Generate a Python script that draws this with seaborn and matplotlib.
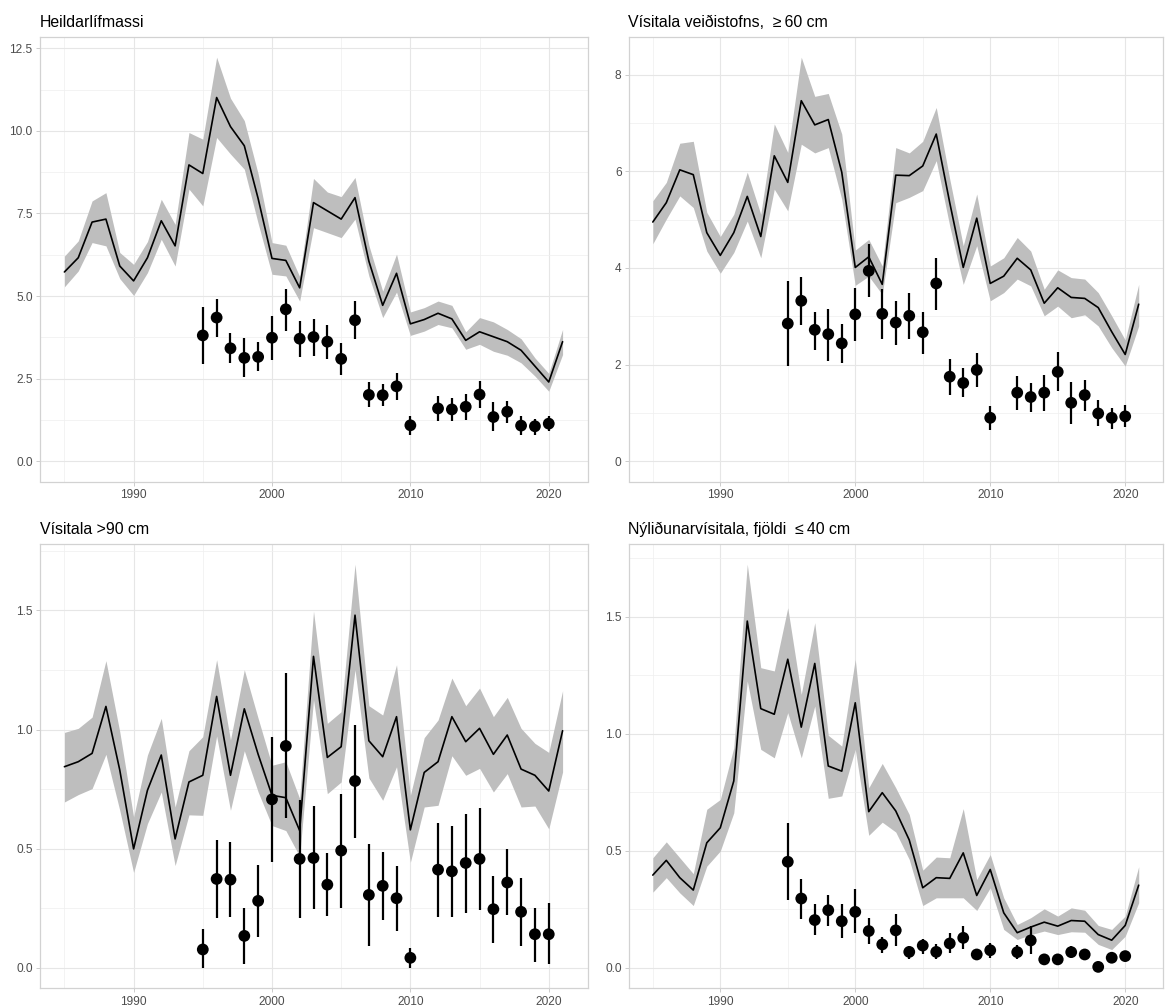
import matplotlib
matplotlib.use("Agg")
import matplotlib.pyplot as plt
import seaborn as sns
from matplotlib.ticker import MultipleLocator, FuncFormatter

sns.set_theme(style="white")
plt.rcParams["font.family"] = ["Liberation Sans", "DejaVu Sans"]

# ---------------------------------------------------------------------------
# Data
# ---------------------------------------------------------------------------
model_years = list(range(1985, 2022))
survey_years = list(range(1995, 2011)) + list(range(2012, 2021))

# Heildarlífmassi (total biomass)
bio_est = [5.73, 6.16, 7.24, 7.33, 5.91, 5.46, 6.16, 7.28, 6.52, 8.97,
           8.71, 11.01, 10.13, 9.55, 7.95, 6.14, 6.08, 5.25, 7.83, 7.58,
           7.33, 7.98, 6.06, 4.72, 5.69, 4.16, 4.29, 4.48, 4.31, 3.66,
           3.92, 3.77, 3.62, 3.36, 2.88, 2.40, 3.62]
bio_lo = [5.28, 5.76, 6.62, 6.52, 5.53, 5.02, 5.71, 6.72, 5.91, 8.24,
          7.73, 9.80, 9.30, 8.84, 7.20, 5.66, 5.61, 4.85, 7.07, 6.92,
          6.77, 7.33, 5.61, 4.35, 5.12, 3.81, 3.94, 4.14, 4.04, 3.39,
          3.54, 3.33, 3.21, 2.98, 2.58, 2.12, 3.23]
bio_hi = [6.21, 6.67, 7.88, 8.13, 6.32, 5.96, 6.65, 7.93, 7.17, 9.95,
          9.75, 12.23, 10.99, 10.31, 8.70, 6.62, 6.54, 5.59, 8.56, 8.15,
          8.01, 8.59, 6.54, 5.15, 6.27, 4.52, 4.65, 4.85, 4.72, 3.92,
          4.35, 4.22, 3.99, 3.71, 3.13, 2.66, 3.99]
bio_idx = [3.81, 4.35, 3.42, 3.13, 3.16, 3.74, 4.60, 3.71, 3.76, 3.62,
           3.10, 4.27, 2.01, 2.00, 2.27, 1.09, 1.60, 1.57, 1.65, 2.02,
           1.34, 1.50, 1.08, 1.06, 1.14]
bio_idx_lo = [2.93, 3.77, 2.96, 2.55, 2.73, 3.08, 3.94, 3.16, 3.20, 3.10,
              2.61, 3.69, 1.64, 1.67, 1.87, 0.79, 1.21, 1.21, 1.26, 1.62,
              0.93, 1.16, 0.81, 0.81, 0.91]
bio_idx_hi = [4.68, 4.92, 3.89, 3.74, 3.61, 4.40, 5.22, 4.24, 4.31, 4.12,
              3.59, 4.85, 2.39, 2.34, 2.68, 1.38, 1.97, 1.92, 2.04, 2.43,
              1.79, 1.82, 1.38, 1.28, 1.38]

# Vísitala veiðistofns, >= 60 cm
fish_est = [4.95, 5.35, 6.03, 5.93, 4.73, 4.26, 4.73, 5.48, 4.65, 6.32,
            5.77, 7.46, 6.96, 7.07, 5.98, 4.01, 4.23, 3.66, 5.92, 5.91,
            6.11, 6.77, 5.35, 4.01, 5.03, 3.68, 3.83, 4.20, 3.96, 3.27,
            3.59, 3.39, 3.37, 3.18, 2.68, 2.21, 3.25]
fish_lo = [4.50, 5.01, 5.49, 5.25, 4.35, 3.89, 4.32, 4.97, 4.21, 5.63,
           5.18, 6.56, 6.38, 6.49, 5.42, 3.64, 3.83, 3.45, 5.35, 5.46,
           5.60, 6.22, 4.87, 3.66, 4.46, 3.32, 3.49, 3.77, 3.63, 3.01,
           3.21, 2.97, 3.03, 2.80, 2.35, 1.97, 2.80]
fish_hi = [5.39, 5.77, 6.58, 6.62, 5.15, 4.65, 5.11, 5.98, 5.11, 6.98,
           6.39, 8.36, 7.55, 7.61, 6.77, 4.37, 4.59, 4.04, 6.49, 6.38,
           6.62, 7.32, 5.84, 4.46, 5.53, 4.04, 4.21, 4.63, 4.35, 3.56,
           3.96, 3.80, 3.77, 3.49, 3.01, 2.51, 3.66]
fish_idx = [2.85, 3.32, 2.72, 2.63, 2.44, 3.04, 3.94, 3.05, 2.87, 3.01,
            2.67, 3.68, 1.75, 1.62, 1.89, 0.90, 1.42, 1.33, 1.42, 1.85,
            1.21, 1.37, 0.99, 0.90, 0.93]
fish_idx_lo = [1.97, 2.83, 2.31, 2.07, 2.04, 2.49, 3.39, 2.52, 2.40, 2.52,
               2.23, 3.14, 1.37, 1.33, 1.54, 0.64, 1.07, 1.02, 1.05, 1.45,
               0.77, 1.05, 0.73, 0.67, 0.71]
fish_idx_hi = [3.74, 3.81, 3.09, 3.16, 2.85, 3.59, 4.49, 3.56, 3.32, 3.49,
               3.09, 4.21, 2.12, 1.92, 2.25, 1.14, 1.76, 1.62, 1.78, 2.26,
               1.64, 1.69, 1.26, 1.11, 1.17]

# Vísitala > 90 cm
big_est = [0.844, 0.865, 0.900, 1.097, 0.830, 0.499, 0.745, 0.893, 0.541, 0.780,
           0.808, 1.139, 0.808, 1.087, 0.896, 0.724, 0.714, 0.576, 1.307, 0.883,
           0.928, 1.480, 0.953, 0.886, 1.054, 0.579, 0.820, 0.865, 1.054, 0.949,
           1.005, 0.896, 0.977, 0.834, 0.808, 0.742, 0.995]
big_lo = [0.696, 0.727, 0.752, 0.896, 0.661, 0.400, 0.605, 0.738, 0.429, 0.642,
          0.640, 0.973, 0.661, 0.911, 0.738, 0.597, 0.576, 0.468, 1.125, 0.731,
          0.780, 1.251, 0.797, 0.703, 0.844, 0.443, 0.675, 0.682, 0.890, 0.808,
          0.837, 0.738, 0.815, 0.675, 0.679, 0.583, 0.822]
big_hi = [0.988, 1.005, 1.052, 1.289, 0.991, 0.633, 0.893, 1.047, 0.675, 0.911,
          0.970, 1.293, 0.956, 1.251, 1.047, 0.850, 0.865, 0.710, 1.497, 1.026,
          1.075, 1.694, 1.100, 1.061, 1.272, 0.724, 0.966, 1.040, 1.216, 1.100,
          1.174, 1.054, 1.135, 1.005, 0.942, 0.904, 1.163]
big_idx = [0.077, 0.373, 0.370, 0.134, 0.281, 0.707, 0.931, 0.457, 0.461, 0.349,
           0.492, 0.784, 0.306, 0.344, 0.292, 0.042, 0.412, 0.405, 0.440, 0.457,
           0.246, 0.358, 0.235, 0.141, 0.141]
big_idx_lo = [0.000, 0.208, 0.214, 0.017, 0.129, 0.446, 0.628, 0.211, 0.246, 0.218,
              0.253, 0.544, 0.091, 0.201, 0.155, 0.000, 0.215, 0.214, 0.229, 0.242,
              0.105, 0.221, 0.091, 0.025, 0.014]
big_idx_hi = [0.162, 0.538, 0.527, 0.249, 0.432, 0.967, 1.237, 0.703, 0.679, 0.481,
              0.731, 1.019, 0.520, 0.488, 0.429, 0.084, 0.609, 0.597, 0.647, 0.671,
              0.387, 0.499, 0.377, 0.253, 0.270]

# Nýliðunarvísitala, fjöldi <= 40 cm
rec_est = [0.396, 0.459, 0.385, 0.332, 0.534, 0.598, 0.798, 1.481, 1.107, 1.083,
           1.318, 1.028, 1.300, 0.862, 0.840, 1.132, 0.667, 0.748, 0.670, 0.546,
           0.342, 0.385, 0.382, 0.491, 0.309, 0.420, 0.235, 0.150, 0.174, 0.195,
           0.178, 0.202, 0.199, 0.142, 0.118, 0.181, 0.353]
rec_lo = [0.323, 0.385, 0.320, 0.266, 0.434, 0.499, 0.662, 1.225, 0.933, 0.897,
          1.090, 0.897, 1.118, 0.724, 0.734, 0.933, 0.566, 0.622, 0.580, 0.463,
          0.266, 0.299, 0.299, 0.299, 0.245, 0.342, 0.164, 0.121, 0.142, 0.157,
          0.142, 0.154, 0.152, 0.100, 0.078, 0.135, 0.278]
rec_hi = [0.470, 0.538, 0.470, 0.402, 0.677, 0.719, 0.940, 1.724, 1.282, 1.268,
          1.538, 1.168, 1.474, 0.993, 0.947, 1.318, 0.769, 0.873, 0.769, 0.655,
          0.417, 0.473, 0.470, 0.680, 0.377, 0.484, 0.299, 0.185, 0.214, 0.252,
          0.221, 0.256, 0.246, 0.181, 0.164, 0.221, 0.432]
rec_idx = [0.453, 0.296, 0.204, 0.246, 0.199, 0.239, 0.157, 0.100, 0.160, 0.068,
           0.095, 0.068, 0.104, 0.128, 0.057, 0.075, 0.067, 0.117, 0.036, 0.036,
           0.067, 0.057, 0.004, 0.043, 0.050]
rec_idx_lo = [0.289, 0.207, 0.142, 0.178, 0.128, 0.147, 0.100, 0.064, 0.093, 0.038,
              0.061, 0.036, 0.064, 0.081, 0.033, 0.043, 0.036, 0.057, 0.021, 0.024,
              0.040, 0.036, 0.000, 0.024, 0.028]
rec_idx_hi = [0.620, 0.380, 0.271, 0.313, 0.271, 0.335, 0.214, 0.132, 0.228, 0.095,
              0.124, 0.100, 0.150, 0.178, 0.078, 0.107, 0.097, 0.178, 0.050, 0.050,
              0.093, 0.078, 0.014, 0.057, 0.071]

titles = ["Heildarlífmassi",
          "Vísitala veiðistofns,  \u2265\u200960 cm",
          "Vísitala >90 cm",
          "Nýliðunarvísitala, fjöldi  \u2264\u200940 cm"]

# ---------------------------------------------------------------------------
# Figure
# ---------------------------------------------------------------------------
W, H = 1170, 1007
fig = plt.figure(figsize=(W / 100, H / 100), dpi=100)
fig.patch.set_facecolor("white")


def px_axes(x0, y0, x1, y1):
    return fig.add_axes([x0 / W, 1 - y1 / H, (x1 - x0) / W, (y1 - y0) / H])


panels = [
    (px_axes(39.5, 37, 587.5, 481.5), titles[0],
     (bio_est, bio_lo, bio_hi, bio_idx, bio_idx_lo, bio_idx_hi), 2.5, "{:.1f}"),
    (px_axes(628.5, 37, 1163, 481.5), titles[1],
     (fish_est, fish_lo, fish_hi, fish_idx, fish_idx_lo, fish_idx_hi), 2, "{:.0f}"),
    (px_axes(39.5, 544, 587.5, 988), titles[2],
     (big_est, big_lo, big_hi, big_idx, big_idx_lo, big_idx_hi), 0.5, "{:.1f}"),
    (px_axes(628.5, 544, 1163, 988), titles[3],
     (rec_est, rec_lo, rec_hi, rec_idx, rec_idx_lo, rec_idx_hi), 0.5, "{:.1f}"),
]

border = "#D2D2D2"
grid_major = "#E6E6E6"
grid_minor = "#EFEFEF"
band = "#BEBEBE"

for ax, title, (est, lo, hi, idx, idx_lo, idx_hi), ystep, fmt in panels:
    ax.set_facecolor("white")

    # model estimate with confidence band
    ax.fill_between(model_years, lo, hi, color=band, lw=0, zorder=2)
    sns.lineplot(x=model_years, y=est, color="black", lw=1.2, ax=ax, zorder=3)

    # survey index with intervals
    ax.vlines(survey_years, idx_lo, idx_hi, color="black", lw=1.6, zorder=4)
    sns.scatterplot(x=survey_years, y=idx, color="black", s=72,
                    edgecolor="none", ax=ax, zorder=5)

    # axes limits (5 % padding, zero included)
    ymax = max(max(hi), max(idx_hi))
    ax.set_xlim(1985 - 0.05 * 36, 2021 + 0.05 * 36)
    ax.set_ylim(-0.05 * ymax, ymax * 1.05)

    ax.xaxis.set_major_locator(MultipleLocator(10))
    ax.xaxis.set_minor_locator(MultipleLocator(5))
    ax.yaxis.set_major_locator(MultipleLocator(ystep))
    ax.yaxis.set_minor_locator(MultipleLocator(ystep / 2))
    ax.yaxis.set_major_formatter(FuncFormatter(lambda v, p, f=fmt: f.format(v)))
    ax.xaxis.set_major_formatter(FuncFormatter(lambda v, p: f"{int(round(v))}"))

    ax.grid(True, which="major", color=grid_major, lw=0.8, zorder=0)
    ax.grid(True, which="minor", color=grid_minor, lw=0.5, zorder=0)
    ax.set_axisbelow(True)

    for s in ax.spines.values():
        s.set_color(border)
        s.set_linewidth(0.9)
        s.set_visible(True)

    ax.tick_params(which="major", length=3, width=0.6, color="#C4C4C4",
                   labelcolor="#4D4D4D", labelsize=8.6, pad=2,
                   bottom=True, left=True)
    ax.tick_params(axis="x", pad=2.5)
    ax.tick_params(which="minor", length=0)
    ax.set_xlabel("")
    ax.set_ylabel("")
    ax.set_title(title, loc="left", fontsize=11.4, color="black", pad=7.5)

fig.savefig("out.png", dpi=100, facecolor="white")
